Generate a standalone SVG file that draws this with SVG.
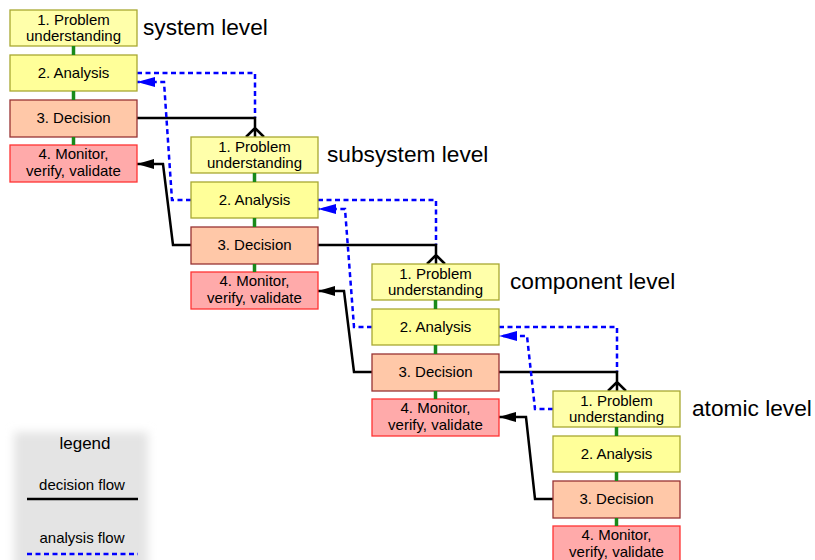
<svg xmlns="http://www.w3.org/2000/svg" width="815" height="560" viewBox="0 0 815 560">
<style>
text{font-family:"Liberation Sans",Arial,sans-serif;fill:#000}
.t{font-size:15px;text-anchor:middle}
.lvl{font-size:22.7px}
.b1{fill:#ffffaa;stroke:#a8a832;stroke-width:1.3}
.b2{fill:#ffff99;stroke:#a8a832;stroke-width:1.3}
.b3{fill:#ffc8a8;stroke:#993333;stroke-width:1.3}
.b4{fill:#ffaaaa;stroke:#ff3333;stroke-width:1.3}
.g{stroke:#1a8a1a;stroke-width:3.5;fill:none}
.dec{stroke:#000;stroke-width:2.5;fill:none;stroke-linejoin:miter}
.ana{stroke:#0000ff;stroke-width:2.5;fill:none;stroke-dasharray:5 3.5}
</style>
<defs>
<marker id="ab" markerUnits="userSpaceOnUse" markerWidth="20" markerHeight="12" refX="18" refY="5" orient="auto">
<path d="M0,0 L18,5 L0,10 z" fill="#0000ff"/>
</marker>
<marker id="ak" markerUnits="userSpaceOnUse" markerWidth="20" markerHeight="12" refX="17" refY="5" orient="auto">
<path d="M0,0 L17,5 L0,10 z" fill="#000"/>
</marker>
<filter id="blur" x="-20%" y="-20%" width="140%" height="140%"><feGaussianBlur stdDeviation="5"/></filter>
<g id="level">
<rect class="b1" x="10" y="10" width="127" height="36"/>
<rect class="b2" x="10" y="55" width="127" height="36"/>
<rect class="b3" x="10" y="100" width="127" height="37"/>
<rect class="b4" x="10" y="145" width="127" height="37"/>
<line class="g" x1="73.5" y1="46" x2="73.5" y2="55"/>
<line class="g" x1="73.5" y1="91" x2="73.5" y2="100"/>
<line class="g" x1="73.5" y1="137" x2="73.5" y2="145"/>
<text class="t" x="73.5" y="25">1. Problem</text>
<text class="t" x="73.5" y="41">understanding</text>
<text class="t" x="73.5" y="78">2. Analysis</text>
<text class="t" x="73.5" y="123">3. Decision</text>
<text class="t" x="73.5" y="159">4. Monitor,</text>
<text class="t" x="73.5" y="176">verify, validate</text>
</g>
</defs>

<g id="legend">
<rect x="14" y="432" width="134" height="140" fill="#e4e4e4" filter="url(#blur)"/>
<text x="85" y="449" style="font-size:17px;text-anchor:middle">legend</text>
<text x="82" y="490" style="font-size:15px;text-anchor:middle">decision flow</text>
<line x1="27" y1="499" x2="138" y2="499" stroke="#000" stroke-width="2.5"/>
<text x="82" y="543" style="font-size:15px;text-anchor:middle">analysis flow</text>
<line x1="27" y1="554" x2="138" y2="554" stroke="#0000ff" stroke-width="2.5" stroke-dasharray="5 3.5"/>
</g>

<g id="connectors">
<!-- system -> subsystem -->
<path class="ana" d="M137,73 H255 V118"/>
<path class="dec" d="M137,118 H255 V137 M246,137 L255,128 L264,137"/>
<path class="ana" d="M191,200 H172 L164,82 H137" marker-end="url(#ab)"/>
<path class="dec" d="M191,245 H173 L163,164 H137" marker-end="url(#ak)"/>
<!-- subsystem -> component -->
<path class="ana" d="M318,200 H436 V245"/>
<path class="dec" d="M318,245 H436 V264 M427,264 L436,255 L445,264"/>
<path class="ana" d="M372,327 H354 L345,209 H318" marker-end="url(#ab)"/>
<path class="dec" d="M372,372 H354 L344,291 H318" marker-end="url(#ak)"/>
<!-- component -> atomic -->
<path class="ana" d="M499,327 H617 V372"/>
<path class="dec" d="M499,372 H617 V391 M608,391 L617,382 L626,391"/>
<path class="ana" d="M553,409 H535 L527,336 H499" marker-end="url(#ab)"/>
<path class="dec" d="M553,499 H535 L526,417 H499" marker-end="url(#ak)"/>
</g>

<g id="system-level">
<use href="#level"/>
<text class="lvl" x="143" y="35">system level</text>
</g>
<g id="subsystem-level">
<use href="#level" x="181" y="127"/>
<text class="lvl" x="327" y="162">subsystem level</text>
</g>
<g id="component-level">
<use href="#level" x="362" y="254"/>
<text class="lvl" x="510" y="289">component level</text>
</g>
<g id="atomic-level">
<use href="#level" x="543" y="381"/>
<text class="lvl" x="692" y="416">atomic level</text>
</g>
</svg>
